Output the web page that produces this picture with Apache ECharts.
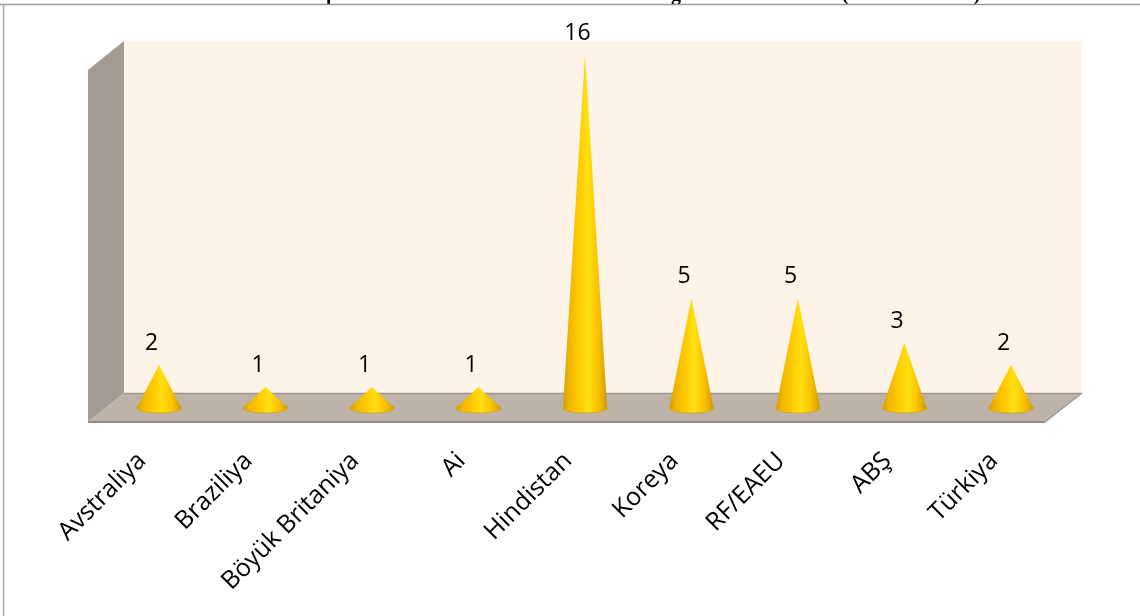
<!DOCTYPE html>
<html><head><meta charset="utf-8">
<style>html,body{margin:0;padding:0;background:#fff}#c{width:1140px;height:616px}</style>
<script src="https://cdn.jsdelivr.net/npm/echarts@6/dist/echarts.min.js"></script>
</head><body><div id="c"></div>
<script>
const categories = ['Avstraliya','Braziliya','Böyük Britaniya','Ai','Hindistan','Koreya','RF/EAEU','ABŞ','Türkiya'];
const values = [2,1,1,1,16,5,5,3,2];

const chart = echarts.init(document.getElementById('c'), null, {renderer:'canvas'});
const gold = {type:'linear',x:0,y:0,x2:1,y2:0,colorStops:[
  {offset:0,color:'#cfa000'},{offset:0.14,color:'#f0b500'},{offset:0.35,color:'#ffc800'},
  {offset:0.56,color:'#ffe010'},{offset:0.78,color:'#fbc400'},{offset:0.93,color:'#dfa800'},{offset:1,color:'#c29400'}]};
const poly = (pts,fill)=>({type:'polygon',silent:true,z:0,shape:{points:pts},style:{fill}});
const line = (x1,y1,x2,y2,stroke,w)=>({type:'line',silent:true,z:1,shape:{x1,y1,x2,y2},style:{stroke,lineWidth:w}});
const frag = (t,x)=>({type:'text',silent:true,z:0,x,y:-15,style:{text:t,fill:'#000',font:'bold 20px "Liberation Serif"',textAlign:'center',textVerticalAlign:'top'}});

chart.setOption({
  animation:false,
  backgroundColor:'#fff',
  grid:{left:105.8,right:75.8,top:55,bottom:207},
  xAxis:{type:'category',data:categories,
    axisLine:{show:false},axisTick:{show:false},
    axisLabel:{rotate:45,interval:0,margin:31,padding:[0,24,0,0],color:'#000',fontFamily:'Open Sans',fontSize:25}},
  yAxis:{type:'value',min:0,max:16,show:false},
  graphic:[
    poly([[124,41],[1082,41],[1082,393],[124,393]],'#fdf3e6'),
    poly([[88,70],[124,41],[124,393],[88,422]],'#a59a92'),
    poly([[124,393],[1082,393],[1045,422],[88,422]],'#bdb3a9'),
    line(124,393.5,1082,393.5,'#9d9892',1.5),
    line(88,422,1045,422,'#8e8c8a',2),
    line(1045,422,1082,393,'#9d9892',1.5),
    line(0,4.5,1140,4.5,'#9a9a9a',1.5),
    line(3.5,4,3.5,616,'#a8a8a8',1.5),
    frag('p',331.5),frag('g',676),frag('(',845),frag(')',977)
  ],
  series:[{
    type:'custom',
    data:values,
    clip:false,
    encode:{x:0,y:1},
    renderItem:(params,api)=>{
      const i=api.value(0), v=api.value(1);
      const top=api.coord([i,v]), base=api.coord([i,0]);
      const cx=base[0], cy=base[1]-1, rx=22, ry=5;
      return {type:'group',children:[
        {type:'ellipse',shape:{cx,cy,rx:rx+0.5,ry},style:{fill:gold,stroke:'#d0a418',lineWidth:0.8}},
        {type:'polygon',shape:{points:[[top[0],top[1]],[cx+rx,cy-0.5],[cx-rx,cy-0.5]]},style:{fill:gold}},
        {type:'text',x:top[0]-7.5,y:top[1]-21.5,style:{text:String(v),fill:'#000',font:'23px "Open Sans"',textAlign:'center',textVerticalAlign:'middle'}}
      ]};
    }
  }]
});
</script></body></html>
